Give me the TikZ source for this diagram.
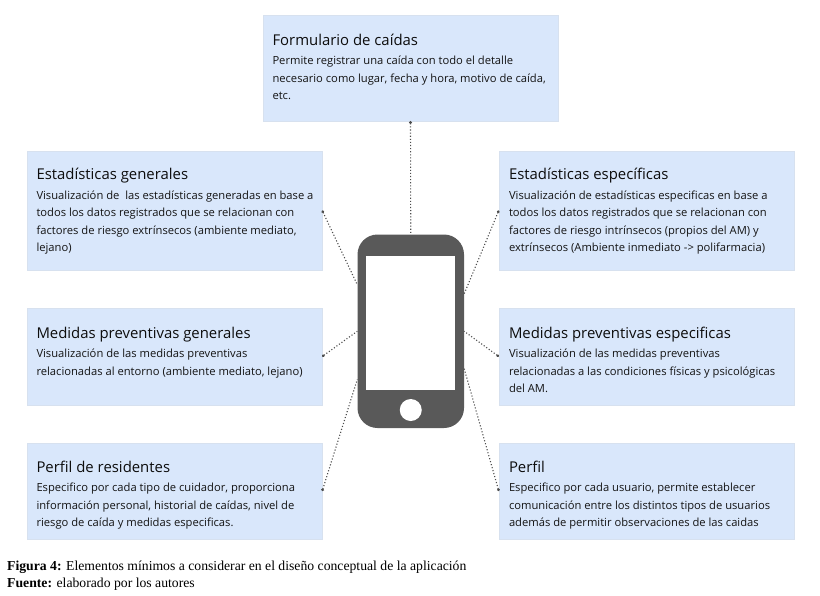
\documentclass[tikz,border=0pt]{standalone}
\usepackage{fontspec}
\setmainfont{Open Sans}
\newfontfamily\captionfont{Liberation Serif}
\usetikzlibrary{positioning}
\usetikzlibrary{arrows.meta}
\definecolor{boxblue}{HTML}{D9E7FB}
\definecolor{boxline}{HTML}{D7E1EF}
\definecolor{phonegray}{HTML}{595959}
\newcommand{\boxtitle}[1]{{\fontsize{14.9}{17.5}\selectfont\color{black!95}#1}}
\tikzset{
    x=1pt, y=-1pt,
    infobox/.style={ % Sets the properties for each blue box
        rectangle,
        draw=boxline,
        fill=boxblue,
        minimum width=295pt,
        inner sep=0pt
    },
    infotext/.style={ % Text inside a box, set from its top left corner
        inner sep=0pt,
        align=left,
        text=black!92,
        font=\fontsize{11.2}{17.6}\selectfont
    },
    link/.style={ % Sets the properties for each connector
        draw=black!70,
        dotted,
        line width=1.1pt,
        {Circle[length=2.6pt,sep=0pt]}-
    },
    captiontext/.style={
        inner sep=0pt,
        anchor=base west,
        font=\captionfont\fontsize{13.7}{14}\selectfont
    }
}
\begin{document}
\begin{tikzpicture}
            \useasboundingbox (0,0) rectangle (820,595);

            \node[infobox, minimum height=106pt] (form) at (410.5,68) {};
            \node[infobox, minimum height=119pt] (l1) at (174.5,210.5) {};
            \node[infobox, minimum height=97pt] (l2) at (174.5,356.5) {};
            \node[infobox, minimum height=96pt] (l3) at (174.5,491) {};
            \node[infobox, minimum height=119pt] (r1) at (646.5,210.5) {};
            \node[infobox, minimum height=97pt] (r2) at (646.5,356.5) {};
            \node[infobox, minimum height=96pt] (r3) at (646.5,491) {};

            \node[infotext, below right=19pt and 9.5pt of form.north west] (formtext) {\boxtitle{Formulario de caídas}\\[1.5pt]
                Permite registrar una caída con todo el detalle\\
                necesario como lugar, fecha y hora, motivo de caída,\\
                etc.};
            \node[infotext, below right=17.5pt and 9.5pt of l1.north west] (l1text) {\boxtitle{Estadísticas generales}\\[1.5pt]
                Visualización de\ \ las estadísticas generadas en base a\\
                todos los datos registrados que se relacionan con\\
                factores de riesgo extrínsecos (ambiente mediato,\\
                lejano)};
            \node[infotext, below right=19pt and 9.5pt of l2.north west] (l2text) {\boxtitle{Medidas preventivas generales}\\[1.5pt]
                Visualización de las medidas preventivas\\
                relacionadas al entorno (ambiente mediato, lejano)};
            \node[infotext, below right=18pt and 9.5pt of l3.north west] (l3text) {\boxtitle{Perfil de residentes}\\[1.5pt]
                Especifico por cada tipo de cuidador, proporciona\\
                información personal, historial de caídas, nivel de\\
                riesgo de caída y medidas especificas.};
            \node[infotext, below right=17.5pt and 10pt of r1.north west] (r1text) {\boxtitle{Estadísticas específicas}\\[1.5pt]
                Visualización de estadísticas especificas en base a\\
                todos los datos registrados que se relacionan con\\
                factores de riesgo intrínsecos (propios del AM) y\\
                extrínsecos (Ambiente inmediato -> polifarmacia)};
            \node[infotext, below right=19pt and 10pt of r2.north west] (r2text) {\boxtitle{Medidas preventivas especificas}\\[1.5pt]
                Visualización de las medidas preventivas\\
                relacionadas a las condiciones físicas y psicológicas\\
                del AM.};
            \node[infotext, below right=18pt and 10pt of r3.north west] (r3text) {\boxtitle{Perfil}\\[1.5pt]
                Especifico por cada usuario, permite establecer\\
                comunicación entre los distintos tipos de usuarios\\
                además de permitir observaciones de las caidas};

            % the phone in the middle
            \node[rectangle, rounded corners=20pt, fill=phonegray, minimum width=106.5pt, minimum height=193.5pt] (phone) at (410.75,331.25) {};
            \node[rectangle, fill=white, minimum width=89pt, minimum height=134pt, below=21.5pt of phone.north] (screen) {};
            \node[circle, fill=white, minimum size=22pt, inner sep=0pt, above=7pt of phone.south] (home) {};

            \draw[link] (form.south) -- (phone.north);
            \draw[link] (l1.east) -- (phone.139);
            \draw[link] (l2.east) -- (phone.180);
            \draw[link] (l3.east) -- (phone.222);
            \draw[link] (r1.west) -- (phone.35);
            \draw[link] (r2.west) -- (phone.0);
            \draw[link] (r3.west) -- (phone.-35);

            \node[captiontext] (figcaption) at (7,570) {\textbf{Figura 4:} Elementos mínimos a considerar en el diseño conceptual de la aplicación};
            \node[captiontext] (source) at (7,587) {\textbf{Fuente:} elaborado por los autores};
        \end{tikzpicture}
\end{document}
